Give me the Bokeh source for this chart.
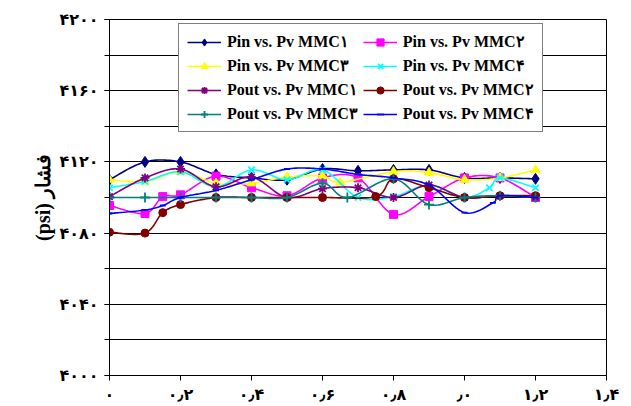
from bokeh.plotting import figure
from bokeh.models import Legend, LegendItem, FixedTicker
from bokeh.embed import file_html
from bokeh.resources import INLINE

# ---- data: pressure (psi) against Pv for the eight MMC series ----
x_pin1 = [0, 0.1, 0.2, 0.3, 0.4, 0.5, 0.6, 0.7, 0.8, 0.9, 1.0, 1.1, 1.2]
pin_mmc1 = [4110, 4120, 4120, 4113, 4111, 4110, 4116, 4115, 4115.5, 4115.5, 4111, 4111, 4110.5]

x_pin2 = [0, 0.1, 0.15, 0.2, 0.3, 0.4, 0.5, 0.6, 0.7, 0.8, 0.9, 1.0, 1.1, 1.2]
pin_mmc2 = [4095.5, 4091, 4100.5, 4101.5, 4112, 4105.5, 4101, 4111, 4111, 4090.5, 4100.5, 4111, 4111, 4100]

x_pin3 = [0, 0.1, 0.2, 0.3, 0.4, 0.5, 0.6, 0.65, 0.8, 0.9, 1.0, 1.1, 1.2]
pin_mmc3 = [4110, 4109, 4114.5, 4108, 4108, 4111.5, 4112, 4108.5, 4114.5, 4114, 4110, 4111, 4115.5]

x_pin4 = [0, 0.1, 0.2, 0.3, 0.4, 0.5, 0.6, 0.7, 0.8, 0.9, 1.0, 1.07, 1.1, 1.2]
pin_mmc4 = [4105.5, 4109, 4114.5, 4106, 4115.5, 4110, 4115.5, 4100, 4100.5, 4107, 4100, 4105.5, 4111, 4105.5]

x_pout1 = [0, 0.1, 0.2, 0.3, 0.4, 0.5, 0.6, 0.7, 0.8, 0.9, 1.0, 1.1, 1.2]
pout_mmc1 = [4100.5, 4111, 4116, 4106, 4111.5, 4100, 4105, 4105.5, 4100, 4107, 4100, 4101, 4100]

x_pout2 = [0, 0.1, 0.15, 0.2, 0.3, 0.4, 0.5, 0.6, 0.75, 0.8, 0.9, 1.0, 1.1, 1.2]
pout_mmc2 = [4080.5, 4080, 4091.5, 4096, 4100, 4100, 4100, 4100, 4100.5, 4110.5, 4105.5, 4100, 4101, 4101]

x_pout3 = [0, 0.1, 0.2, 0.3, 0.4, 0.5, 0.6, 0.67, 0.8, 0.9, 1.0, 1.1, 1.2]
pout_mmc3 = [4100, 4100, 4100, 4100, 4100, 4100, 4108, 4100, 4110.5, 4096, 4100, 4101, 4100]

x_pout4 = [0, 0.1, 0.15, 0.2, 0.3, 0.4, 0.5, 0.6, 0.7, 0.8, 0.9, 1.0, 1.08, 1.1, 1.2]
pout_mmc4 = [4091, 4093, 4095.5, 4100, 4104, 4110, 4116, 4116, 4113, 4111, 4107, 4091.5, 4097, 4101, 4100]

series_names = [
    "Pin vs. Pv MMC۱", "Pin vs. Pv MMC۲",
    "Pin vs. Pv MMC۳", "Pin vs. Pv MMC۴",
    "Pout vs. Pv MMC۱", "Pout vs. Pv MMC۲",
    "Pout vs. Pv MMC۳", "Pout vs. Pv MMC۴",
]

x_ticks = [0, 0.2, 0.4, 0.6, 0.8, 1.0, 1.2, 1.4]
x_tick_labels = ["۰", "۰٫۲", "۰٫۴", "۰٫۶", "۰٫۸", "٫۰", "۱٫۲", "۱٫۴"]
y_ticks = [4000, 4040, 4080, 4120, 4160, 4200]
y_tick_labels = ["۴۰۰۰", "۴۰۴۰", "۴۰۸۰", "۴۱۲۰", "۴۱۶۰", "۴۲۰۰"]


def smooth(xs, ys, steps=16):
    """Smoothed curve through the points (cubic Bezier, 1/6 tangents)."""
    n = len(xs)
    out_x, out_y = [], []
    for i in range(n - 1):
        x0, y0 = (xs[i - 1], ys[i - 1]) if i > 0 else (xs[i], ys[i])
        x1, y1 = xs[i], ys[i]
        x2, y2 = xs[i + 1], ys[i + 1]
        x3, y3 = (xs[i + 2], ys[i + 2]) if i + 2 < n else (x2, y2)
        c1x, c1y = x1 + (x2 - x0) / 6, y1 + (y2 - y0) / 6
        c2x, c2y = x2 - (x3 - x1) / 6, y2 - (y3 - y1) / 6
        for k in range(steps):
            t = k / steps
            a, b, c, d = (1 - t) ** 3, 3 * t * (1 - t) ** 2, 3 * t * t * (1 - t), t ** 3
            out_x.append(a * x1 + b * c1x + c * c2x + d * x2)
            out_y.append(a * y1 + b * c1y + c * c2y + d * y2)
    out_x.append(xs[-1])
    out_y.append(ys[-1])
    return out_x, out_y


p = figure(width=631, height=406, x_range=(0, 1.4), y_range=(4000, 4200),
           output_backend="svg", toolbar_location=None,
           min_border_left=109, min_border_right=25,
           min_border_top=19, min_border_bottom=30)
p.background_fill_color = "white"
p.border_fill_color = "white"
p.outline_line_color = "black"
p.outline_line_width = 1

# grid: horizontal lines every 20 psi
p.xgrid.visible = False
p.ygrid.ticker = FixedTicker(ticks=list(range(4000, 4201, 20)))
p.ygrid.grid_line_color = "black"
p.ygrid.grid_line_width = 1

# axes
p.xaxis.ticker = FixedTicker(ticks=x_ticks)
p.xaxis.major_label_overrides = dict(zip(x_ticks, x_tick_labels))
p.yaxis.ticker = FixedTicker(ticks=y_ticks, minor_ticks=list(range(4000, 4201, 20)))
p.yaxis.major_label_overrides = dict(zip(y_ticks, y_tick_labels))
for ax in (p.xaxis[0], p.yaxis[0]):
    ax.axis_line_color = "black"
    ax.major_tick_line_color = "black"
    ax.minor_tick_line_color = "black"
    ax.major_tick_out = 5
    ax.major_tick_in = 0
    ax.minor_tick_out = 5
    ax.minor_tick_in = 0
    ax.major_label_text_font = "DejaVu Sans"
    ax.major_label_text_font_style = "bold"
    ax.major_label_text_font_size = "16px"
    ax.major_label_text_color = "black"
p.xaxis.minor_tick_line_color = None
p.xaxis.major_label_standoff = 4
p.yaxis.major_label_standoff = 6
p.yaxis.axis_label = "(psi) فشار"
p.yaxis.axis_label_text_font = "Liberation Serif"
p.yaxis.axis_label_text_font_style = "bold"
p.yaxis.axis_label_text_font_size = "20px"
p.yaxis.axis_label_text_color = "black"
p.yaxis.axis_label_standoff = 2

styles = [
    (x_pin1, pin_mmc1, "#000080", "diamond", 11),
    (x_pin2, pin_mmc2, "#FF00FF", "square", 8),
    (x_pin3, pin_mmc3, "#FFFF00", "triangle", 9),
    (x_pin4, pin_mmc4, "#00FFFF", "x", 9),
    (x_pout1, pout_mmc1, "#800080", "asterisk", 9),
    (x_pout2, pout_mmc2, "#800000", "circle", 8),
    (x_pout3, pout_mmc3, "#008080", "cross", 10),
    (x_pout4, pout_mmc4, "#0000FF", "dash", 6),
]

items = []
for (xs, ys, color, marker, size), name in zip(styles, series_names):
    sx, sy = smooth(xs, ys)
    ln = p.line(sx, sy, line_color=color, line_width=1.6)
    thin = marker in ("x", "asterisk", "cross", "dash")
    mk = p.scatter(xs, ys, marker=marker, size=size, fill_color=color,
                   line_color=color, line_width=1.8 if thin else 1)
    items.append(LegendItem(label=name, renderers=[ln, mk]))

legend = Legend(items=items, ncols=2, orientation="horizontal", location=(69, 243))
legend.label_text_font = "Liberation Serif"
legend.label_text_font_style = "bold"
legend.label_text_font_size = "16px"
legend.label_text_color = "black"
legend.glyph_width = 34
legend.glyph_height = 18
legend.label_height = 18
legend.label_standoff = 6
legend.spacing = 5
legend.padding = 8
legend.margin = 0
legend.border_line_color = "black"
legend.border_line_width = 1
legend.background_fill_color = "white"
legend.background_fill_alpha = 1
p.add_layout(legend)

open("out.html", "w").write(file_html(p, INLINE))
